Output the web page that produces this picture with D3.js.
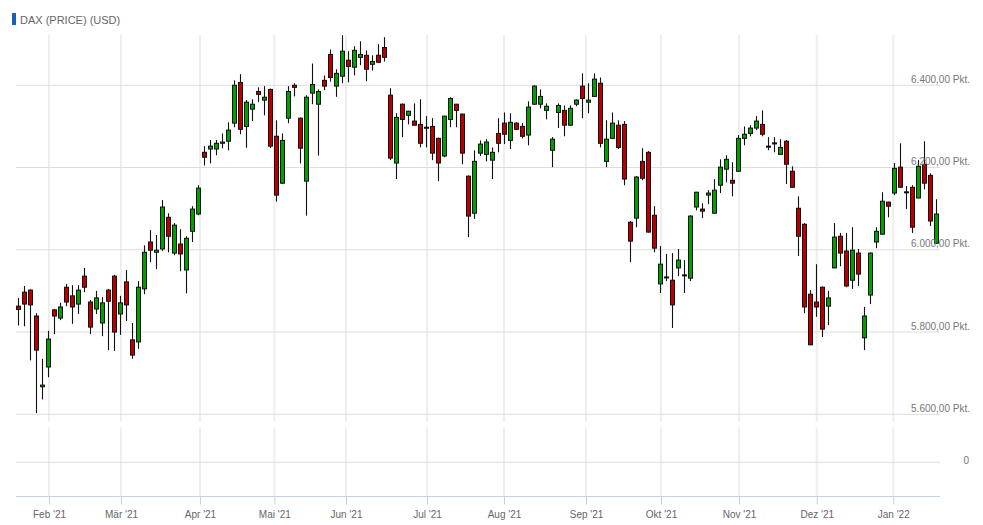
<!DOCTYPE html>
<html lang="de">
<head>
    <meta charset="UTF-8">
    <script src="https://cdnjs.cloudflare.com/ajax/libs/d3/7.8.5/d3.min.js"></script>
    <title>DAX (PRICE) (USD)</title>
    <style>
        body {
            margin: 0;
            background: #fff;
        }
        text {
            font-family: "Liberation Sans", Arial, sans-serif;
        }
    </style>
</head>
<body>
    <div id="chart"></div>

    <script>
        // candles, [open, high, low, close]
        const candles = [
            [5863, 5883, 5816, 5855], [5897, 5912, 5814, 5868], [5902, 5904, 5731, 5866], [5839, 5846, 5603, 5756],
            [5667, 5735, 5636, 5671], [5715, 5803, 5690, 5783], [5854, 5856, 5795, 5839], [5834, 5871, 5829, 5861],
            [5909, 5917, 5863, 5873], [5888, 5914, 5820, 5861], [5868, 5914, 5844, 5902], [5936, 5956, 5897, 5909],
            [5873, 5878, 5795, 5812], [5856, 5900, 5844, 5883], [5822, 5885, 5790, 5871], [5902, 5905, 5756, 5875],
            [5936, 5939, 5754, 5800], [5844, 5888, 5793, 5871], [5922, 5951, 5827, 5866], [5781, 5822, 5735, 5744],
            [5776, 5924, 5759, 5909], [5905, 6011, 5892, 5994], [6019, 6048, 5970, 5999], [5994, 6036, 5953, 5999],
            [6002, 6121, 5997, 6104], [6079, 6089, 5994, 6033], [5992, 6065, 5987, 6060], [6014, 6050, 5948, 5990],
            [5951, 6033, 5894, 6028], [6045, 6106, 6019, 6099], [6087, 6157, 6084, 6150], [6237, 6252, 6205, 6225],
            [6245, 6267, 6210, 6252], [6245, 6267, 6230, 6259], [6259, 6283, 6247, 6262], [6264, 6310, 6242, 6291],
            [6308, 6412, 6298, 6400], [6407, 6427, 6281, 6293], [6300, 6364, 6248, 6359], [6342, 6366, 6313, 6354],
            [6385, 6395, 6359, 6378], [6364, 6398, 6327, 6371], [6390, 6392, 6247, 6252], [6276, 6315, 6117, 6133],
            [6162, 6283, 6160, 6266], [6320, 6398, 6308, 6385], [6400, 6405, 6373, 6395], [6320, 6322, 6210, 6247],
            [6167, 6376, 6083, 6371], [6381, 6453, 6354, 6402], [6354, 6390, 6229, 6385], [6412, 6424, 6388, 6398],
            [6475, 6487, 6409, 6419], [6398, 6439, 6372, 6429], [6422, 6522, 6405, 6483], [6461, 6483, 6407, 6446],
            [6444, 6495, 6424, 6485], [6468, 6507, 6449, 6475], [6473, 6485, 6410, 6439], [6451, 6473, 6436, 6458],
            [6473, 6500, 6455, 6456], [6492, 6517, 6458, 6468], [6376, 6393, 6218, 6223], [6211, 6332, 6172, 6322],
            [6354, 6356, 6274, 6317], [6327, 6338, 6305, 6337], [6313, 6356, 6302, 6303], [6305, 6366, 6249, 6259],
            [6298, 6325, 6249, 6296], [6300, 6320, 6218, 6235], [6271, 6273, 6167, 6211], [6228, 6326, 6225, 6325],
            [6317, 6371, 6298, 6368], [6354, 6355, 6298, 6339], [6330, 6331, 6208, 6235], [6179, 6181, 6031, 6082],
            [6089, 6242, 6075, 6215], [6235, 6266, 6228, 6257], [6232, 6269, 6215, 6262], [6218, 6249, 6172, 6237],
            [6283, 6320, 6237, 6259], [6308, 6334, 6257, 6281], [6266, 6332, 6245, 6310], [6308, 6310, 6291, 6293],
            [6300, 6308, 6271, 6276], [6279, 6361, 6254, 6347], [6354, 6400, 6353, 6398], [6354, 6390, 6344, 6373],
            [6339, 6356, 6317, 6349], [6242, 6274, 6201, 6269], [6334, 6356, 6296, 6351], [6339, 6351, 6276, 6303],
            [6303, 6351, 6302, 6344], [6354, 6366, 6349, 6364], [6398, 6429, 6320, 6368], [6359, 6405, 6332, 6364],
            [6373, 6429, 6372, 6415], [6405, 6419, 6249, 6259], [6215, 6315, 6201, 6269], [6271, 6334, 6269, 6308],
            [6303, 6315, 6245, 6249], [6305, 6313, 6157, 6172], [6067, 6070, 5970, 6021], [6077, 6179, 6055, 6177],
            [6215, 6247, 6169, 6174], [6237, 6240, 6042, 6043], [6084, 6106, 5994, 6004], [5917, 6009, 5895, 5965],
            [5933, 5990, 5924, 5934], [5926, 5992, 5810, 5866], [5956, 6002, 5936, 5975], [5939, 5975, 5895, 5938],
            [5931, 6084, 5924, 6082], [6104, 6141, 6096, 6140], [6099, 6113, 6077, 6094], [6133, 6145, 6111, 6138],
            [6089, 6172, 6088, 6145], [6157, 6220, 6138, 6201], [6196, 6230, 6164, 6220], [6169, 6213, 6130, 6162],
            [6191, 6279, 6190, 6271], [6271, 6300, 6254, 6281], [6283, 6303, 6276, 6296], [6296, 6325, 6291, 6313],
            [6305, 6339, 6276, 6281], [6252, 6274, 6242, 6251], [6259, 6274, 6237, 6260], [6232, 6269, 6231, 6249],
            [6264, 6267, 6160, 6208], [6191, 6203, 6151, 6152], [6101, 6130, 5985, 6033], [6062, 6065, 5846, 5861],
            [5892, 5902, 5768, 5769], [5873, 5965, 5837, 5861], [5909, 5911, 5788, 5807], [5863, 5900, 5817, 5883],
            [5956, 6065, 5955, 6031], [6033, 6041, 5960, 5992], [5997, 6041, 5909, 5912], [5926, 6055, 5905, 5999],
            [5992, 6002, 5912, 5941], [5786, 5861, 5756, 5839], [5890, 5994, 5868, 5992], [6019, 6055, 6004, 6045],
            [6038, 6140, 6037, 6118], [6116, 6117, 6079, 6106], [6138, 6211, 6133, 6198], [6201, 6259, 6151, 6152],
            [6140, 6155, 6099, 6141], [6152, 6157, 6041, 6055], [6126, 6218, 6125, 6203], [6208, 6264, 6147, 6162],
            [6181, 6186, 6058, 6070], [6016, 6123, 6014, 6087]
        ];

        // month ticks, position given in candle units
        const monthLabels = ["Feb '21", "Mär '21", "Apr '21", "Mai '21", "Jun '21", "Jul '21",
                             "Aug '21", "Sep '21", "Okt '21", "Nov '21", "Dez '21", "Jan '22"];
        const monthPos = [5.12, 17.12, 30.28, 42.67, 54.62, 68.12, 80.95, 94.62, 107.12, 120.12, 133.07, 145.83];

        const priceTicks = [5600, 5800, 6000, 6200, 6400];
        const lowerTicks = [0];

        const width = 983, height = 525;
        const left = 16, right = 940;
        const paneTop = 35, paneBottom = 421.7;
        const lowTop = 427.3, axisY = 496.5;

        const svg = d3.select("#chart").append("svg")
            .attr("width", width)
            .attr("height", height);

        const x = d3.scaleLinear()
            .domain([0, candles.length - 1])
            .range([18.3, 936.3]);

        const y = d3.scaleLinear()
            .domain([5600, 6400])
            .range([414.3, 85.3]);

        // lower (empty) pane, only the zero line is shown
        const yLow = d3.scaleLinear()
            .domain([-1, 1])
            .range([496.5, 428]);

        const de = d3.formatLocale({ decimal: ",", thousands: ".", grouping: [3], currency: ["", "€"] });
        const fmtPrice = de.format(",.2f");

        // title
        svg.append("rect")
            .attr("x", 12).attr("y", 13)
            .attr("width", 4).attr("height", 12)
            .attr("fill", "#1c5fb8");
        svg.append("text")
            .attr("x", 20).attr("y", 23.5)
            .attr("font-size", "11px")
            .attr("fill", "#666")
            .text("DAX (PRICE) (USD)");

        // vertical grid, broken between the two panes
        const vgrid = svg.append("g");
        [[paneTop, paneBottom], [lowTop, axisY]].forEach(([y0, y1]) => {
            vgrid.selectAll(null)
                .data(monthPos)
                .enter()
                .append("line")
                .attr("x1", d => x(d)).attr("x2", d => x(d))
                .attr("y1", y0).attr("y2", y1)
                .attr("stroke", "#eeeeee")
                .attr("stroke-width", 2);
        });

        // horizontal grid for price pane
        svg.append("g").selectAll("line")
            .data(priceTicks)
            .enter()
            .append("line")
            .attr("x1", left).attr("x2", right)
            .attr("y1", d => y(d)).attr("y2", d => y(d))
            .attr("stroke", "#dcdcdc")
            .attr("stroke-width", 1);

        // lower pane zero line
        svg.append("g").selectAll("line")
            .data(lowerTicks)
            .enter()
            .append("line")
            .attr("x1", left).attr("x2", right)
            .attr("y1", d => yLow(d)).attr("y2", d => yLow(d))
            .attr("stroke", "#dcdcdc");

        // candles
        const candleG = svg.append("g");
        const bodyW = 4;

        candleG.selectAll("line.wick")
            .data(candles)
            .enter()
            .append("line")
            .attr("class", "wick")
            .attr("x1", (d, i) => Math.round(x(i)) + 0.5)
            .attr("x2", (d, i) => Math.round(x(i)) + 0.5)
            .attr("y1", d => y(d[1]))
            .attr("y2", d => y(d[2]))
            .attr("stroke", "#111")
            .attr("stroke-width", 1.1);

        candleG.selectAll("rect.body")
            .data(candles)
            .enter()
            .append("rect")
            .attr("class", "body")
            .attr("x", (d, i) => Math.round(x(i)) + 0.5 - bodyW / 2)
            .attr("y", d => y(Math.max(d[0], d[3])))
            .attr("width", bodyW)
            .attr("height", d => Math.max(1, Math.abs(y(d[0]) - y(d[3]))))
            .attr("fill", d => d[3] >= d[0] ? "#00a000" : "#b80000")
            .attr("stroke", "#111")
            .attr("stroke-width", 1);

        // price labels (drawn over the candles, right side)
        svg.append("g").selectAll("text")
            .data(priceTicks)
            .enter()
            .append("text")
            .attr("x", 970)
            .attr("y", d => y(d) - 2.5)
            .attr("text-anchor", "end")
            .attr("font-size", "10px")
            .attr("fill", "#777")
            .text(d => fmtPrice(d) + " Pkt.");

        svg.append("g").selectAll("text")
            .data(lowerTicks)
            .enter()
            .append("text")
            .attr("x", 969)
            .attr("y", d => yLow(d) + 1.5)
            .attr("text-anchor", "end")
            .attr("font-size", "10px")
            .attr("fill", "#777")
            .text(d => d);

        // bottom axis
        const xAxis = d3.axisBottom(x)
            .tickValues(monthPos)
            .tickFormat((d, i) => monthLabels[i])
            .tickSizeOuter(0)
            .tickSizeInner(8)
            .tickPadding(6);

        const axisG = svg.append("g")
            .attr("transform", `translate(0,${axisY})`)
            .call(xAxis);

        axisG.select(".domain").remove();
        axisG.insert("line", ":first-child")
            .attr("x1", left).attr("x2", right)
            .attr("y1", 0).attr("y2", 0)
            .attr("stroke", "#c3d1e2");
        axisG.selectAll(".tick line").attr("stroke", "#c3d1e2");
        axisG.selectAll(".tick text")
            .attr("fill", "#666")
            .attr("font-size", "10px")
            .attr("font-family", "'Liberation Sans', Arial, sans-serif");
    </script>
</body>
</html>
